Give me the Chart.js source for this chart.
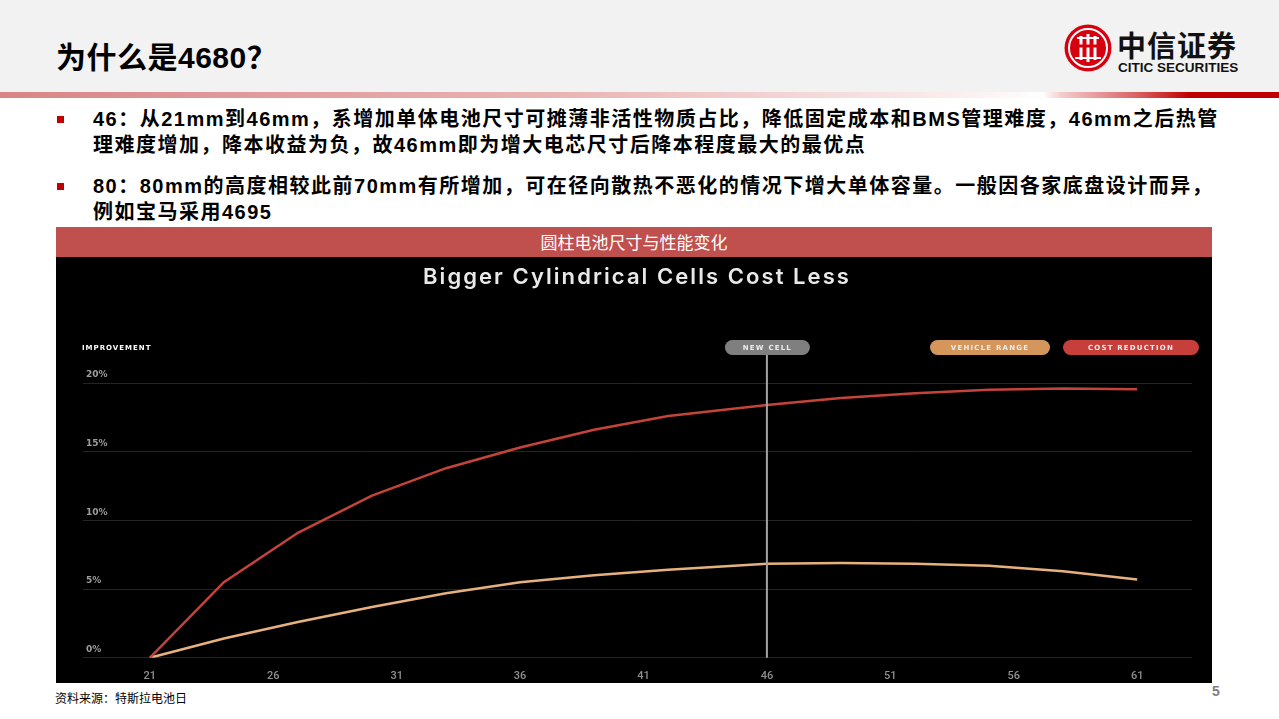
<!DOCTYPE html>
<html>
<head>
<meta charset="utf-8">
<script src="https://cdn.jsdelivr.net/npm/chart.js@4/dist/chart.umd.min.js"></script>
<style>
  body { margin: 0; width: 1279px; height: 719px; background: #fff; position: relative; overflow: hidden;
         font-family: "Liberation Sans", Arial, "Noto Sans CJK SC", sans-serif; }
  .header { position: absolute; left: 0; top: 0; width: 1279px; height: 92px; background: #f2f2f2; }
  .bar { position: absolute; left: 0; top: 92px; width: 1279px; height: 6px;
         background: linear-gradient(to right, #d98585 0%, #eab5b5 45%, #fbeeee 75%, #ffffff 81.5%, #f4cccc 83%, #d86060 89%, #c00000 93%, #c00000 100%); }
  .title { position: absolute; left: 56px; top: 33px; font-size: 30px; font-weight: bold; color: #000; letter-spacing: 0.5px; }
  .title span { font-family: "Noto Sans CJK SC", sans-serif; }
  .logo { position: absolute; left: 1064px; top: 24px; }
  .logo-cn { position: absolute; left: 1117px; top: 23px; font-size: 29px; font-weight: bold; color: #111; letter-spacing: 1px;
             font-family: "Noto Sans CJK SC", sans-serif; }
  .logo-en { position: absolute; left: 1118px; top: 60px; font-size: 13px; font-weight: bold; color: #111;
             transform: scaleX(1.04); transform-origin: left top; white-space: nowrap; }
  .bullet { position: absolute; left: 57px; width: 7px; height: 7px; background: #c00000; }
  .text { position: absolute; left: 93px; font-size: 20px; font-weight: bold; color: #000; line-height: 26px;
          letter-spacing: 1.5px; white-space: nowrap; }
  .band { position: absolute; left: 56px; top: 227px; width: 1156px; height: 30px; background: #c0504d; color: #fff;
          font-size: 17px; line-height: 30px; text-align: center; font-family: "Noto Sans CJK SC", sans-serif; }
  .panel { position: absolute; left: 56px; top: 257px; width: 1156px; height: 426px; background: #000; }
  .source { position: absolute; left: 55px; top: 689px; font-size: 12px; color: #000; font-family: "Noto Sans CJK SC", sans-serif; }
  .page { position: absolute; left: 1212px; top: 683px; font-size: 14px; font-weight: bold; color: #808080; }
</style>
</head>
<body>
<div class="header"></div>
<div class="bar"></div>
<div class="title">为什么是4680<span>？</span></div>
<svg class="logo" width="48" height="48" viewBox="0 0 48 48">
  <circle cx="24" cy="24" r="23.5" fill="#d7000f"/>
  <circle cx="24" cy="24" r="19" fill="none" stroke="#fff" stroke-width="2"/>
  <path d="M13 14 h22 M11 34 h26" stroke="#fff" stroke-width="2"/>
  <path d="M17 12 v24 M24 10 v28 M31 12 v24" stroke="#fff" stroke-width="3"/>
  <path d="M13 22 h22" stroke="#d7000f" stroke-width="3"/>
</svg>
<div class="logo-cn">中信证券</div>
<div class="logo-en">CITIC SECURITIES</div>

<div class="bullet" style="top:116px"></div>
<div class="text" style="top:106px">46：从21mm到46mm，系增加单体电池尺寸可摊薄非活性物质占比，降低固定成本和BMS管理难度，46mm之后热管<br>理难度增加，降本收益为负，故46mm即为增大电芯尺寸后降本程度最大的最优点</div>
<div class="bullet" style="top:183px"></div>
<div class="text" style="top:173px">80：80mm的高度相较此前70mm有所增加，可在径向散热不恶化的情况下增大单体容量。一般因各家底盘设计而异，<br>例如宝马采用4695</div>

<div class="band">圆柱电池尺寸与性能变化</div>
<div class="panel"><canvas id="cells" width="1156" height="426"></canvas></div>
<div class="source">资料来源：特斯拉电池日</div>
<div class="page">5</div>

<script>
const cellSizes = [21, 24, 27, 30, 33, 36, 39, 42, 46, 49, 52, 55, 58, 61];
const costReduction = [0, 5.5, 9.1, 11.8, 13.8, 15.3, 16.6, 17.6, 18.4, 18.9, 19.25, 19.5, 19.6, 19.55];
const vehicleRange = [0, 1.4, 2.6, 3.7, 4.7, 5.5, 6.0, 6.4, 6.85, 6.9, 6.85, 6.7, 6.3, 5.7];
const xTickValues = [21, 26, 31, 36, 41, 46, 51, 56, 61];
const newCellSize = 46;

const pill = (ctx, x, y, w, h, fill, text) => {
    ctx.fillStyle = fill;
    ctx.beginPath();
    ctx.roundRect(x, y, w, h, h / 2);
    ctx.fill();
    ctx.fillStyle = '#ececec';
    ctx.font = 'bold 7px "DejaVu Sans"';
    ctx.letterSpacing = '1.2px';
    ctx.textAlign = 'center';
    ctx.textBaseline = 'middle';
    ctx.fillText(text, x + w / 2, y + h / 2 + 0.5);
};

const decor = {
    id: 'decor',
    afterDatasetsDraw(chart) {
        const ctx = chart.ctx;
        const area = chart.chartArea;
        const x = chart.scales.x.getPixelForValue(newCellSize);
        ctx.save();
        ctx.strokeStyle = '#a3a3a3';
        ctx.lineWidth = 2;
        ctx.beginPath();
        ctx.moveTo(x, 98);
        ctx.lineTo(x, area.bottom);
        ctx.stroke();

        pill(ctx, x - 42, 83, 85, 15, '#7f7f7f', 'NEW CELL');
        pill(ctx, 874, 83, 120, 15, '#d5965c', 'VEHICLE RANGE');
        pill(ctx, 1007, 83, 136, 15, '#c73f3a', 'COST REDUCTION');

        ctx.fillStyle = '#ffffff';
        ctx.font = 'bold 7px "DejaVu Sans"';
        ctx.letterSpacing = '1px';
        ctx.textAlign = 'left';
        ctx.textBaseline = 'middle';
        ctx.fillText('IMPROVEMENT', 26, 91);

        const title = 'Bigger Cylindrical Cells Cost Less';
        ctx.font = '600 22px Inter';
        ctx.letterSpacing = '0px';
        const w = ctx.measureText(title).width;
        ctx.letterSpacing = Math.max(0, (428 - w) / title.length) + 'px';
        ctx.fillStyle = '#e9e9e9';
        ctx.textAlign = 'center';
        ctx.textBaseline = 'alphabetic';
        ctx.fillText(title, 581, 27);
        ctx.restore();
    }
};

new Chart(document.getElementById('cells').getContext('2d'), {
    type: 'line',
    data: {
        labels: cellSizes,
        datasets: [{
            label: 'Cost Reduction',
            data: cellSizes.map((s, i) => ({ x: s, y: costReduction[i] })),
            borderColor: '#c4433b',
            borderWidth: 2.5,
            pointRadius: 0,
            tension: 0
        }, {
            label: 'Vehicle Range',
            data: cellSizes.map((s, i) => ({ x: s, y: vehicleRange[i] })),
            borderColor: '#e7b17e',
            borderWidth: 2.5,
            pointRadius: 0,
            tension: 0
        }]
    },
    options: {
        responsive: false,
        animation: false,
        layout: { padding: { left: 21, right: 20, top: 126, bottom: -12 } },
        plugins: { legend: { display: false }, tooltip: { enabled: false } },
        scales: {
            x: {
                type: 'linear',
                min: 18.293,
                max: 63.222,
                afterBuildTicks: (scale) => { scale.ticks = xTickValues.map(v => ({ value: v })); },
                grid: { display: false, drawTicks: false },
                border: { display: false },
                ticks: { color: '#8f8f8f', padding: 12, maxRotation: 0, font: { family: 'Roboto', size: 11, weight: '500' } }
            },
            y: {
                min: 0,
                max: 20,
                grid: { color: '#252525', lineWidth: 1, drawTicks: false },
                border: { display: false },
                ticks: {
                    stepSize: 5,
                    mirror: true,
                    padding: 3,
                    labelOffset: -8,
                    color: '#9d9d9d',
                    font: { family: 'DejaVu Sans', size: 9, weight: 'bold' },
                    callback: v => v + '%'
                }
            }
        }
    },
    plugins: [decor]
});
</script>
</body>
</html>
